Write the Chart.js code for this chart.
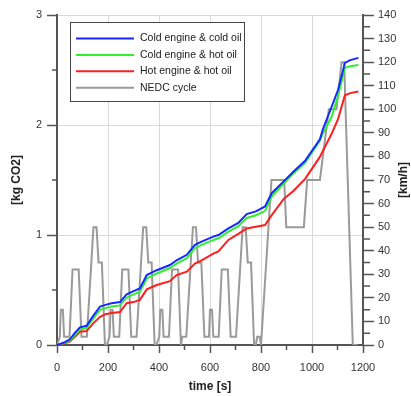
<!DOCTYPE html>
<html>
<head>
<meta charset="utf-8">
<script src="https://cdn.jsdelivr.net/npm/chart.js@4.4.1/dist/chart.umd.min.js"></script>
<style>
  html, body { margin: 0; padding: 0; background: #fff; }
  canvas { display: block; }
</style>
</head>
<body>
<canvas id="co2Chart" width="411" height="396"></canvas>
<script>
// cumulative CO2 [kg]
const co2Time = [0, 25, 50, 70, 90, 116, 142, 169, 190, 214, 247, 273, 300, 325, 352, 391, 443, 469, 509, 541, 567, 613, 633, 672, 711, 744, 780, 816, 842, 890, 927, 973, 1031, 1044, 1077, 1103, 1129, 1150, 1182];
const coldEngineColdOil = [0, 0.02, 0.05, 0.11, 0.16, 0.175, 0.265, 0.35, 0.365, 0.38, 0.39, 0.46, 0.49, 0.515, 0.636, 0.68, 0.727, 0.77, 0.82, 0.91, 0.94, 0.985, 1.0, 1.06, 1.11, 1.19, 1.215, 1.26, 1.38, 1.49, 1.575, 1.675, 1.87, 1.97, 2.166, 2.325, 2.565, 2.59, 2.61];
const coldEngineHotOil = [0, 0.015, 0.04, 0.09, 0.14, 0.155, 0.24, 0.32, 0.335, 0.35, 0.36, 0.43, 0.46, 0.485, 0.605, 0.65, 0.70, 0.74, 0.79, 0.88, 0.91, 0.955, 0.97, 1.03, 1.08, 1.155, 1.18, 1.22, 1.35, 1.47, 1.56, 1.655, 1.86, 1.93, 2.075, 2.27, 2.52, 2.535, 2.545];
const hotEngineHotOil = [0, 0.01, 0.03, 0.075, 0.12, 0.127, 0.197, 0.257, 0.28, 0.29, 0.30, 0.38, 0.39, 0.41, 0.506, 0.545, 0.58, 0.636, 0.667, 0.74, 0.77, 0.83, 0.85, 0.955, 1.01, 1.06, 1.075, 1.09, 1.18, 1.33, 1.40, 1.51, 1.71, 1.77, 1.92, 2.06, 2.27, 2.29, 2.305];

// NEDC speed trace [km/h]
const nedcTime = [0, 11, 15, 23, 28, 49, 61, 85, 96, 117, 143, 155, 163, 176, 188, 195,
  206, 210, 218, 223, 244, 256, 280, 291, 312, 338, 350, 358, 371, 383, 390,
  401, 405, 413, 418, 439, 451, 475, 486, 491, 507, 533, 545, 553, 566, 578, 585,
  596, 600, 608, 613, 634, 646, 670, 681, 702, 728, 740, 748, 761, 773, 780,
  785, 795, 800, 841, 891, 899, 968, 981, 1031, 1066, 1096, 1116, 1126, 1160, 1180];
const nedcSpeed = [0, 3.5, 15, 15, 3.5, 3.5, 32, 32, 3.5, 3.5, 50, 50, 35, 35, 0, 0,
  3.5, 15, 15, 3.5, 3.5, 32, 32, 3.5, 3.5, 50, 50, 35, 35, 0, 0,
  3.5, 15, 15, 3.5, 3.5, 32, 32, 0, 3.5, 3.5, 50, 50, 35, 35, 3.5, 3.5,
  3.5, 15, 15, 3.5, 3.5, 32, 32, 3.5, 3.5, 50, 50, 35, 35, 0, 0,
  3.5, 3.5, 0, 70, 70, 50, 50, 70, 70, 100, 100, 120, 120, 0, 0];

const seriesNames = ["Cold engine & cold oil", "Cold engine & hot oil", "Hot engine & hot oil", "NEDC cycle"];
const seriesColors = ["#1428ff", "#2ef02e", "#ff1e1e", "#9a9a9a"];

const timeMinor = [100, 300, 500, 700, 900, 1100];
const co2Minor = [0.5, 1.5, 2.5];
const speedMinor = [5, 15, 25, 35, 45, 55, 65, 75, 85, 95, 105, 115, 125, 135];

const axisColor = "#555";
const gridColor = "#dadada";
const fontFamily = "'Liberation Sans', Arial, sans-serif";

const toPoints = (xs, ys) => xs.map((x, i) => ({ x: x, y: ys[i] }));
const plainLabel = v => String(v);

const minorTicks = {
  id: "minorTicks",
  afterDraw(chart) {
    const ctx = chart.ctx;
    const { x, y, y2 } = chart.scales;
    ctx.save();
    ctx.strokeStyle = axisColor;
    ctx.lineWidth = 1.5;
    ctx.beginPath();
    timeMinor.forEach(v => {
      const px = x.getPixelForValue(v);
      ctx.moveTo(px, x.top);
      ctx.lineTo(px, x.top + 5);
    });
    co2Minor.forEach(v => {
      const py = y.getPixelForValue(v);
      ctx.moveTo(y.right, py);
      ctx.lineTo(y.right - 5, py);
    });
    speedMinor.forEach(v => {
      const py = y2.getPixelForValue(v);
      ctx.moveTo(y2.left, py);
      ctx.lineTo(y2.left + 7, py);
    });
    ctx.stroke();

    // right axis title, reading bottom to top
    ctx.fillStyle = "#222";
    ctx.font = "bold 12px " + fontFamily;
    ctx.textAlign = "center";
    ctx.textBaseline = "middle";
    ctx.translate(404, (chart.chartArea.top + chart.chartArea.bottom) / 2);
    ctx.rotate(-Math.PI / 2);
    ctx.fillText("[km/h]", 0, 0);
    ctx.restore();
  }
};

const boxLegend = {
  id: "boxLegend",
  afterDraw(chart) {
    const ctx = chart.ctx;
    ctx.save();
    ctx.fillStyle = "#fff";
    ctx.fillRect(70, 22, 174, 79);
    ctx.strokeStyle = "#444";
    ctx.lineWidth = 1;
    ctx.strokeRect(70.5, 22.5, 174, 79);
    ctx.font = "10.5px " + fontFamily;
    ctx.textBaseline = "middle";
    chart.data.datasets.forEach((ds, i) => {
      const yy = 38.5 + i * 16.4;
      ctx.strokeStyle = ds.borderColor;
      ctx.lineWidth = 2;
      ctx.beginPath();
      ctx.moveTo(76, yy);
      ctx.lineTo(134, yy);
      ctx.stroke();
      ctx.fillStyle = "#222";
      ctx.fillText(ds.label, 140, yy);
    });
    ctx.restore();
  }
};

new Chart(document.getElementById("co2Chart"), {
  type: "line",
  data: {
    datasets: [
      { label: seriesNames[0], data: toPoints(co2Time, coldEngineColdOil), borderColor: seriesColors[0], yAxisID: "y" },
      { label: seriesNames[1], data: toPoints(co2Time, coldEngineHotOil), borderColor: seriesColors[1], yAxisID: "y" },
      { label: seriesNames[2], data: toPoints(co2Time, hotEngineHotOil), borderColor: seriesColors[2], yAxisID: "y" },
      { label: seriesNames[3], data: toPoints(nedcTime, nedcSpeed), borderColor: seriesColors[3], yAxisID: "y2" }
    ]
  },
  options: {
    responsive: false,
    animation: false,
    layout: { padding: { top: 15, left: 0, right: 0, bottom: 0 } },
    elements: {
      line: { borderWidth: 2, tension: 0, fill: false },
      point: { radius: 0 }
    },
    plugins: {
      legend: { display: false },
      tooltip: { enabled: false }
    },
    scales: {
      x: {
        type: "linear",
        min: 0,
        max: 1200,
        afterFit: s => { s.height = 51; },
        ticks: { stepSize: 200, color: "#333", padding: 8, maxRotation: 0, callback: plainLabel, font: { family: fontFamily, size: 11 } },
        grid: { color: gridColor, tickColor: axisColor, tickLength: 8, tickWidth: 1.5 },
        border: { color: axisColor, width: 2 },
        title: { display: true, text: "time [s]", color: "#222", padding: { top: 0, bottom: 2 }, font: { family: fontFamily, size: 12, weight: "bold" } }
      },
      y: {
        position: "left",
        min: 0,
        max: 3,
        afterFit: s => { s.width = 57; },
        ticks: { stepSize: 1, color: "#333", padding: 5, callback: plainLabel, font: { family: fontFamily, size: 11 } },
        grid: { color: gridColor, tickColor: axisColor, tickLength: 10, tickWidth: 1.5 },
        border: { color: axisColor, width: 2 },
        title: { display: true, text: "[kg CO2]", color: "#222", padding: { top: 9, bottom: 0 }, font: { family: fontFamily, size: 12, weight: "bold" } }
      },
      y2: {
        position: "right",
        min: 0,
        max: 140,
        afterFit: s => { s.width = 48; },
        ticks: { stepSize: 10, color: "#333", padding: 4, callback: plainLabel, font: { family: fontFamily, size: 11 } },
        grid: { drawOnChartArea: false, tickColor: axisColor, tickLength: 11, tickWidth: 1.5 },
        border: { color: axisColor, width: 2 }
      }
    }
  },
  plugins: [minorTicks, boxLegend]
});
</script>
</body>
</html>
